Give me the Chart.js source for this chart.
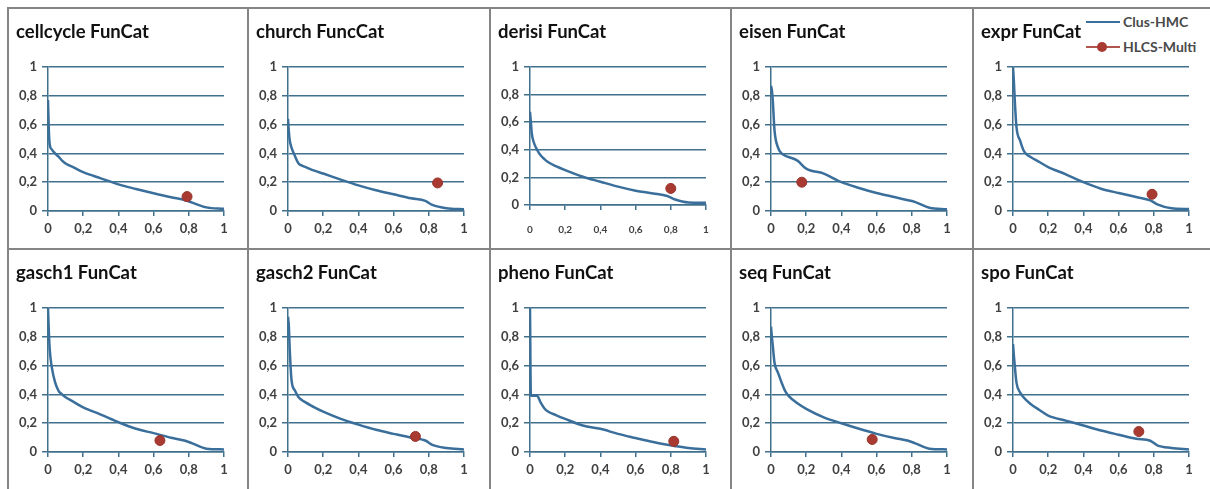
<!DOCTYPE html>
<html>
<head>
<meta charset="utf-8">
<script src="https://cdn.jsdelivr.net/npm/chart.js@4.4.1/dist/chart.umd.min.js"></script>
<style>
  body { margin: 0; background: #fff; width: 1210px; height: 489px; overflow: hidden; position: relative; }
  .panel { position: absolute; }
  .vline { position: absolute; width: 2px; background: #858585; }
  .hline { position: absolute; height: 2px; background: #858585; }
  #legend { position: absolute; left: 1086px; top: 12px; font: bold 14px Lato, sans-serif; color: #4a4a4a; }
  #legend .row { position: relative; height: 25px; }
  #legend .ln { position: absolute; left: 0; top: 9px; width: 34px; height: 2px; }
  #legend .dot { position: absolute; left: 11px; top: 5px; width: 10px; height: 10px; border-radius: 50%; }
  #legend .tx { position: absolute; left: 37px; top: 1px; white-space: nowrap; }
</style>
</head>
<body>
<div id="legend">
  <div class="row"><div class="ln" style="background:#3b6f9b"></div><div class="tx">Clus-HMC</div></div>
  <div class="row"><div class="ln" style="background:#b0564d"></div><div class="dot" style="background:#a83a32"></div><div class="tx">HLCS-Multi</div></div>
</div>
<script>
// recall grid shared by all Clus-HMC curves
var recall = [0, 0.005, 0.01, 0.02, 0.04, 0.06, 0.08, 0.1, 0.15, 0.2, 0.3, 0.4, 0.5, 0.6, 0.7, 0.78, 0.82, 0.9, 1];

// Clus-HMC precision, one array per dataset
var cellcycle = [0.77, 0.55, 0.46, 0.43, 0.40, 0.377, 0.35, 0.33, 0.30, 0.27, 0.227, 0.185, 0.153, 0.123, 0.095, 0.075, 0.058, 0.025, 0.015];
var church    = [0.64, 0.55, 0.49, 0.44, 0.38, 0.33, 0.315, 0.305, 0.28, 0.26, 0.218, 0.178, 0.144, 0.116, 0.088, 0.07, 0.042, 0.019, 0.012];
var derisi    = [0.675, 0.6, 0.52, 0.46, 0.40, 0.36, 0.335, 0.313, 0.28, 0.253, 0.205, 0.169, 0.133, 0.104, 0.084, 0.065, 0.042, 0.019, 0.017];
var eisen     = [0.87, 0.84, 0.77, 0.56, 0.44, 0.40, 0.385, 0.375, 0.35, 0.294, 0.26, 0.20, 0.16, 0.125, 0.097, 0.075, 0.062, 0.023, 0.012];
var expr      = [1.0, 0.9, 0.77, 0.58, 0.49, 0.42, 0.39, 0.375, 0.34, 0.305, 0.255, 0.20, 0.155, 0.125, 0.097, 0.074, 0.046, 0.019, 0.014];
var gasch1    = [1.0, 0.83, 0.71, 0.60, 0.485, 0.425, 0.40, 0.38, 0.345, 0.31, 0.26, 0.207, 0.161, 0.131, 0.099, 0.078, 0.06, 0.023, 0.018];
var gasch2    = [0.94, 0.87, 0.71, 0.50, 0.425, 0.38, 0.36, 0.345, 0.31, 0.28, 0.23, 0.19, 0.154, 0.126, 0.099, 0.08, 0.05, 0.028, 0.018];
var pheno     = [1.0, 0.39, 0.39, 0.39, 0.39, 0.345, 0.306, 0.283, 0.255, 0.23, 0.184, 0.161, 0.126, 0.097, 0.069, 0.05, 0.042, 0.028, 0.018];
var seq       = [0.87, 0.80, 0.74, 0.62, 0.55, 0.483, 0.425, 0.39, 0.338, 0.30, 0.241, 0.20, 0.161, 0.126, 0.097, 0.078, 0.06, 0.023, 0.018];
var spo       = [0.75, 0.67, 0.60, 0.48, 0.414, 0.38, 0.355, 0.333, 0.292, 0.253, 0.218, 0.184, 0.149, 0.12, 0.092, 0.078, 0.046, 0.028, 0.018];

var titles = ['cellcycle FunCat', 'church FuncCat', 'derisi FunCat', 'eisen FunCat', 'expr FunCat',
              'gasch1 FunCat', 'gasch2 FunCat', 'pheno FunCat', 'seq FunCat', 'spo FunCat'];
var clusHmc = [cellcycle, church, derisi, eisen, expr, gasch1, gasch2, pheno, seq, spo];

// HLCS-Multi single result per dataset
var hlcsRecall    = [0.79, 0.85, 0.80, 0.175, 0.79, 0.636, 0.724, 0.817, 0.575, 0.715];
var hlcsPrecision = [0.10, 0.195, 0.12, 0.20, 0.116, 0.08, 0.108, 0.074, 0.087, 0.142];

var tickLabels = ['0', '0,2', '0,4', '0,6', '0,8', '1'];

var colLeft = [7, 247, 489, 730, 972, 1212];
var rowTop = [7, 248];
var gridColor = '#41708d';

function addLine(cls, css) {
    var d = document.createElement('div');
    d.className = cls;
    Object.assign(d.style, css);
    document.body.appendChild(d);
}
colLeft.slice(0, 5).forEach(function(x) {
    addLine('vline', { left: x + 'px', top: '7px', height: '482px' });
});
rowTop.forEach(function(y) {
    addLine('hline', { left: '7px', top: y + 'px', width: '1203px' });
});

titles.forEach(function(title, i) {
    var col = i % 5, row = Math.floor(i / 5);
    var w = Math.min(colLeft[col + 1], 1210) - colLeft[col] - 2;
    var h = 239;
    var small = (title === 'derisi FunCat');

    var div = document.createElement('div');
    div.className = 'panel';
    div.style.left = (colLeft[col] + 2) + 'px';
    div.style.top = (rowTop[row] + 2) + 'px';
    div.style.width = w + 'px';
    div.style.height = h + 'px';
    var canvas = document.createElement('canvas');
    div.appendChild(canvas);
    document.body.appendChild(div);

    var curve = recall.map(function(r, k) { return { x: r, y: clusHmc[i][k] }; });

    new Chart(canvas, {
        type: 'scatter',
        data: {
            datasets: [{
                label: 'Clus-HMC',
                data: curve,
                showLine: true,
                borderColor: '#3b6f9b',
                borderWidth: 2.5,
                pointRadius: 0,
                cubicInterpolationMode: 'monotone',
                order: 2
            }, {
                label: 'HLCS-Multi',
                data: [{ x: hlcsRecall[i], y: hlcsPrecision[i] }],
                pointRadius: 5,
                backgroundColor: '#a83a32',
                borderColor: '#97332c',
                borderWidth: 1,
                order: 1
            }]
        },
        options: {
            responsive: true,
            maintainAspectRatio: false,
            animation: false,
            layout: { padding: { left: 7, right: w - 215, top: 0, bottom: 0 } },
            plugins: {
                legend: { display: false },
                tooltip: { enabled: false },
                title: {
                    display: true,
                    text: title,
                    align: 'start',
                    color: '#111',
                    font: { family: 'Lato', size: 18.5, weight: 'bold', lineHeight: 1.2 },
                    padding: { top: 12, bottom: 23.8 }
                }
            },
            scales: {
                x: {
                    type: 'linear',
                    min: 0,
                    max: 1,
                    afterFit: function(s) { s.height = small ? 43 : 37; },
                    border: { display: true, color: gridColor, width: 1.5 },
                    grid: { drawOnChartArea: false, drawTicks: true, tickLength: 5, color: gridColor, lineWidth: 1.5 },
                    ticks: {
                        stepSize: 0.2,
                        padding: small ? 14 : 5,
                        color: '#404040',
                        maxRotation: 0,
                        font: { family: 'Lato', size: small ? 10 : 13, weight: 'bold' },
                        callback: function(v, idx) { return tickLabels[idx]; }
                    }
                },
                y: {
                    min: 0,
                    max: 1,
                    afterFit: function(s) { s.width = 32; },
                    border: { display: true, color: gridColor, width: 1.5 },
                    grid: { drawTicks: true, tickLength: 6, color: gridColor, lineWidth: 1.5 },
                    ticks: {
                        stepSize: 0.2,
                        padding: 5,
                        color: '#404040',
                        font: { family: 'Lato', size: 13, weight: 'bold' },
                        callback: function(v, idx) { return tickLabels[idx]; }
                    }
                }
            }
        }
    });
});
</script>
</body>
</html>
